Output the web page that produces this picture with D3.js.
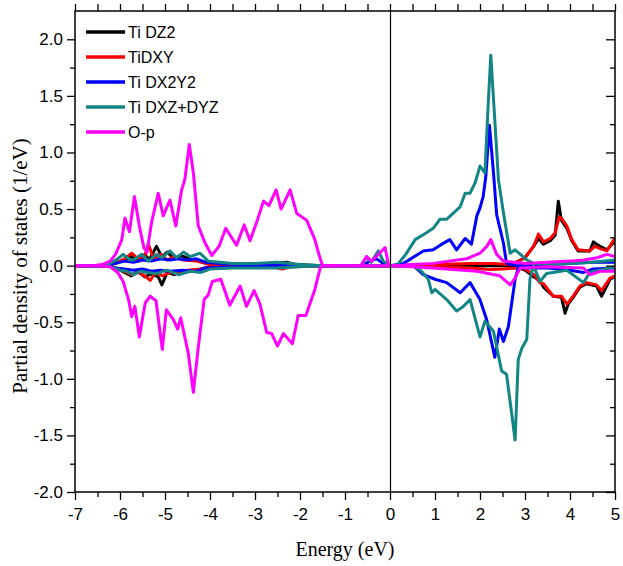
<!DOCTYPE html>
<html><head><meta charset="utf-8">
<script src="https://cdn.jsdelivr.net/npm/d3@7"></script>
<style>body{margin:0;background:#fff}svg{display:block}</style>
</head><body><svg id="c" width="623" height="566"></svg>
<script>
const xTicks = [-7,-6,-5,-4,-3,-2,-1,0,1,2,3,4,5];
const xTickLabels = ["-7","-6","-5","-4","-3","-2","-1","0","1","2","3","4","5"];
const yTicks = [-2,-1.5,-1,-0.5,0,0.5,1,1.5,2];
const yTickLabels = ["-2.0","-1.5","-1.0","-0.5","0.0","0.5","1.0","1.5","2.0"];
const seriesNames = ["Ti DZ2","TiDXY","Ti DX2Y2","Ti DXZ+DYZ","O-p"];
const seriesColors = ["#000000","#ff0000","#0000ff","#148585","#ff00ff"];

const dz2Up = [[-7,0],[-6.3,0],[-6.1,0.02],[-5.9,0.05],[-5.75,0.08],[-5.6,0.04],[-5.45,0.1],[-5.35,0.05],[-5.19,0.17],[-5.07,0.08],[-4.95,0.12],[-4.8,0.06],[-4.65,0.09],[-4.4,0.05],[-4.2,0.04],[-4,0.01],[-3,0.01],[-2.3,0.03],[-2.1,0.01],[-1.5,0],[0,0],[1,0.005],[2,0.01],[2.7,0.01],[3.0,0.07],[3.19,0.17],[3.30,0.24],[3.41,0.19],[3.56,0.22],[3.67,0.27],[3.74,0.57],[3.81,0.40],[3.93,0.33],[4.04,0.22],[4.18,0.13],[4.44,0.13],[4.52,0.21],[4.67,0.17],[4.82,0.14],[4.96,0.2],[5,0.2]];
const dz2Down = [[-7,0],[-6.3,0],[-6.1,-0.02],[-5.9,-0.06],[-5.75,-0.09],[-5.6,-0.05],[-5.45,-0.1],[-5.3,-0.07],[-5.15,-0.1],[-5.07,-0.17],[-4.95,-0.06],[-4.8,-0.08],[-4.6,-0.05],[-4.3,-0.04],[-4,-0.01],[-1.5,0],[2.7,0],[3.0,-0.04],[3.2,-0.1],[3.33,-0.13],[3.41,-0.19],[3.63,-0.27],[3.81,-0.28],[3.89,-0.42],[3.96,-0.34],[4.07,-0.28],[4.22,-0.19],[4.37,-0.16],[4.59,-0.18],[4.7,-0.27],[4.89,-0.12],[5,-0.1]];
const dxyUp = [[-7,0],[-6.3,0],[-6.1,0.02],[-5.9,0.06],[-5.74,0.11],[-5.6,0.06],[-5.45,0.08],[-5.37,0.19],[-5.25,0.06],[-5.1,0.1],[-4.95,0.05],[-4.8,0.08],[-4.6,0.05],[-4.3,0.04],[-4,0.01],[-1.5,0],[0,0],[1.0,0.01],[1.8,0.02],[2.3,0.02],[2.7,0.01],[3.0,0.07],[3.19,0.17],[3.30,0.28],[3.41,0.21],[3.56,0.24],[3.67,0.29],[3.76,0.43],[3.81,0.42],[3.93,0.35],[4.04,0.23],[4.18,0.14],[4.44,0.13],[4.55,0.17],[4.67,0.15],[4.82,0.13],[4.96,0.22],[5,0.24]];
const dxyDown = [[-7,0],[-6.3,0],[-6.1,-0.02],[-5.9,-0.05],[-5.74,-0.08],[-5.6,-0.06],[-5.45,-0.09],[-5.33,-0.13],[-5.2,-0.06],[-5.05,-0.09],[-4.9,-0.06],[-4.7,-0.07],[-4.5,-0.04],[-4.2,-0.03],[-4,-0.01],[-2.6,-0.01],[-2.4,-0.03],[-2.2,-0.01],[-1.5,0],[0.5,0],[1.0,-0.01],[1.8,-0.02],[2.2,-0.035],[2.5,-0.03],[2.8,-0.02],[3.0,-0.03],[3.2,-0.08],[3.33,-0.15],[3.41,-0.16],[3.63,-0.27],[3.81,-0.27],[3.93,-0.34],[4.07,-0.27],[4.22,-0.18],[4.37,-0.15],[4.59,-0.17],[4.7,-0.22],[4.89,-0.11],[5,-0.09]];
const dx2y2Up = [[-7,0],[-6.3,0],[-6.1,0.02],[-5.9,0.04],[-5.7,0.03],[-5.5,0.05],[-5.3,0.04],[-5.1,0.06],[-4.9,0.05],[-4.7,0.06],[-4.5,0.05],[-4.3,0.06],[-4.1,0.03],[-3.8,0.02],[-3,0.01],[-1.5,0],[-0.6,0],[-0.45,0.04],[-0.3,0.06],[-0.15,0.02],[0,0],[0.3,0.02],[0.74,0.13],[0.96,0.14],[1.15,0.19],[1.33,0.23],[1.48,0.14],[1.67,0.24],[1.81,0.19],[1.93,0.44],[2.0,0.51],[2.07,0.61],[2.13,0.79],[2.21,1.24],[2.30,0.82],[2.37,0.45],[2.52,0.2],[2.59,0.02],[2.8,0],[3.5,0.01],[4.0,0.02],[4.5,0.03],[5,0.03]];
const dx2y2Down = [[-7,0],[-6.3,0],[-6.1,-0.02],[-5.9,-0.03],[-5.7,-0.04],[-5.5,-0.03],[-5.3,-0.05],[-5.1,-0.04],[-4.9,-0.05],[-4.6,-0.04],[-4.3,-0.05],[-4.1,-0.02],[-3.5,-0.01],[-1.5,0],[0.52,0],[0.74,-0.08],[1.0,-0.12],[1.26,-0.15],[1.56,-0.24],[1.78,-0.15],[2.0,-0.30],[2.15,-0.48],[2.33,-0.81],[2.43,-0.56],[2.52,-0.67],[2.63,-0.54],[2.78,-0.12],[2.85,-0.02],[3.5,-0.02],[4.0,-0.04],[4.3,-0.06],[4.5,-0.03],[5,-0.02]];
const dxzUp = [[-7,0],[-6.4,0],[-6.22,0.02],[-6.05,0.06],[-5.93,0.10],[-5.78,0.05],[-5.7,0.05],[-5.52,0.10],[-5.37,0.04],[-5.19,0.10],[-5.07,0.07],[-4.89,0.13],[-4.74,0.07],[-4.59,0.12],[-4.44,0.08],[-4.22,0.11],[-4.04,0.04],[-3.78,0.03],[-3.5,0.02],[-3.0,0.02],[-2.5,0.03],[-2.0,0.01],[-1.5,0],[-0.62,0],[-0.52,0.08],[-0.42,0.03],[-0.26,0.13],[-0.15,0.04],[0,0],[0.15,0],[0.35,0.1],[0.56,0.23],[0.81,0.29],[0.96,0.33],[1.11,0.41],[1.26,0.41],[1.37,0.45],[1.56,0.52],[1.67,0.64],[1.78,0.64],[1.89,0.73],[2.0,0.88],[2.11,0.82],[2.18,1.41],[2.24,1.86],[2.31,1.41],[2.41,0.76],[2.52,0.47],[2.67,0.11],[2.78,0.14],[3.04,0.05],[3.19,0.02],[3.6,0.01],[4.0,0.02],[4.5,0.03],[5,0.05]];
const dxzDown = [[-7,0],[-6.4,0],[-6.22,-0.01],[-6.0,-0.04],[-5.85,-0.05],[-5.7,-0.08],[-5.55,-0.05],[-5.4,-0.06],[-5.19,-0.07],[-4.96,-0.04],[-4.70,-0.08],[-4.44,-0.05],[-4.2,-0.06],[-4.0,-0.03],[-3.5,-0.02],[-3.0,-0.02],[-2.5,-0.02],[-2.0,-0.01],[-1.5,0],[0.52,0],[0.7,-0.05],[0.85,-0.12],[0.93,-0.24],[1.0,-0.21],[1.26,-0.30],[1.48,-0.40],[1.63,-0.36],[1.78,-0.30],[2.0,-0.63],[2.11,-0.49],[2.3,-0.58],[2.48,-0.93],[2.59,-0.96],[2.78,-1.54],[2.85,-0.83],[2.93,-0.73],[3.04,-0.65],[3.11,-0.12],[3.19,0],[3.33,-0.14],[3.48,-0.07],[3.93,-0.04],[4.3,-0.15],[4.44,-0.06],[5,-0.01]];
const opUp = [[-7,0],[-6.6,0],[-6.4,0.01],[-6.22,0.04],[-6.1,0.1],[-5.96,0.23],[-5.89,0.42],[-5.79,0.30],[-5.68,0.61],[-5.57,0.35],[-5.47,0.16],[-5.4,0.12],[-5.3,0.38],[-5.15,0.64],[-5.04,0.44],[-4.89,0.58],[-4.76,0.35],[-4.63,0.67],[-4.56,0.76],[-4.46,1.07],[-4.37,0.82],[-4.26,0.35],[-4.11,0.20],[-3.96,0.09],[-3.8,0.17],[-3.65,0.33],[-3.41,0.18],[-3.24,0.36],[-3.11,0.22],[-2.95,0.4],[-2.81,0.57],[-2.69,0.53],[-2.53,0.67],[-2.42,0.50],[-2.22,0.67],[-2.07,0.46],[-1.85,0.40],[-1.67,0.23],[-1.58,0.1],[-1.5,0],[-0.65,0],[-0.52,0.08],[-0.41,0.04],[-0.26,0.10],[-0.11,0.16],[-0.03,0],[0.15,0],[0.5,0.01],[0.96,0.02],[1.7,0.06],[2.0,0.11],[2.15,0.17],[2.24,0.23],[2.37,0.10],[2.52,0.04],[3.0,0.02],[3.5,0.03],[4.0,0.04],[4.3,0.05],[4.6,0.07],[4.82,0.10],[5,0.08]];
const opDown = [[-7,0],[-6.5,0],[-6.22,-0.01],[-6.05,-0.06],[-5.93,-0.14],[-5.81,-0.30],[-5.74,-0.45],[-5.67,-0.36],[-5.57,-0.63],[-5.44,-0.33],[-5.33,-0.27],[-5.2,-0.31],[-5.06,-0.74],[-4.97,-0.39],[-4.81,-0.48],[-4.72,-0.56],[-4.65,-0.46],[-4.48,-0.78],[-4.37,-1.12],[-4.26,-0.72],[-4.13,-0.30],[-4.04,-0.26],[-3.95,-0.14],[-3.76,-0.12],[-3.56,-0.35],[-3.33,-0.18],[-3.19,-0.36],[-3.02,-0.22],[-2.89,-0.34],[-2.74,-0.59],[-2.63,-0.60],[-2.50,-0.71],[-2.37,-0.60],[-2.17,-0.69],[-2.04,-0.44],[-1.87,-0.44],[-1.67,-0.21],[-1.55,-0.02],[-1.5,0],[0.1,0],[0.96,-0.02],[1.93,-0.05],[2.44,-0.09],[2.67,-0.17],[2.78,-0.11],[2.89,-0.02],[3.5,-0.01],[4.3,-0.02],[4.44,-0.08],[4.67,-0.05],[5,-0.05]];

const curves = [
  {data:dz2Up,s:0},{data:dz2Down,s:0},
  {data:dxyUp,s:1},{data:dxyDown,s:1},
  {data:dx2y2Up,s:2},{data:dx2y2Down,s:2},
  {data:dxzUp,s:3},{data:dxzDown,s:3},
  {data:opUp,s:4},{data:opDown,s:4}
];

const L=75, R=615, T=11, B=492;
const x = d3.scaleLinear().domain([-7,5]).range([L,R]);
const y = d3.scaleLinear().domain([-2,2.25]).range([B,T]);
const svg = d3.select("#c");

svg.append("defs").append("clipPath").attr("id","clip").append("rect")
  .attr("x",L).attr("y",T).attr("width",R-L).attr("height",B-T);

const line = d3.line().x(d=>x(d[0])).y(d=>y(d[1]));
const g = svg.append("g").attr("clip-path","url(#clip)");
curves.forEach(c=>{
  g.append("path").attr("d",line(c.data)).attr("fill","none")
   .attr("stroke",seriesColors[c.s]).attr("stroke-width",3).attr("stroke-linejoin","round");
});

// zero energy line
svg.append("line").attr("x1",x(0)+0.5).attr("x2",x(0)+0.5).attr("y1",T).attr("y2",B)
  .attr("stroke","#000").attr("stroke-width",1.2);

// axes
const xMinor = d3.range(-6.5,5,1);
const yMinor = d3.range(-1.75,2.25,0.5);
const fmtX = v => xTickLabels[xTicks.indexOf(v)];
const fmtY = v => yTickLabels[yTicks.indexOf(v)];
const font = "'Liberation Sans', Arial, sans-serif";

function axisG(axis, tr){ const a = svg.append("g").attr("transform",tr).call(axis); a.select(".domain").remove(); a.selectAll("line").attr("stroke-width",1.3); return a; }

const xb = axisG(d3.axisBottom(x).tickValues(xTicks).tickFormat(fmtX).tickSize(8).tickPadding(8), `translate(0,${B})`);
xb.selectAll("text").attr("font-size",17).attr("font-family",font).attr("fill","#000");
axisG(d3.axisBottom(x).tickValues(xMinor).tickFormat("").tickSize(5), `translate(0,${B})`);
axisG(d3.axisBottom(x).tickValues(xTicks.concat(xMinor)).tickFormat("").tickSize(-7), `translate(0,${T})`);

const yl = axisG(d3.axisLeft(y).tickValues(yTicks).tickFormat(fmtY).tickSize(8).tickPadding(4), `translate(${L},0)`);
yl.selectAll("text").attr("font-size",17).attr("font-family",font).attr("fill","#000");
axisG(d3.axisLeft(y).tickValues(yMinor).tickFormat("").tickSize(5), `translate(${L},0)`);
axisG(d3.axisRight(y).tickValues(yTicks).tickFormat("").tickSize(-9), `translate(${R},0)`);
axisG(d3.axisRight(y).tickValues(yMinor).tickFormat("").tickSize(-5), `translate(${R},0)`);

svg.append("rect").attr("x",L).attr("y",T).attr("width",R-L).attr("height",B-T)
  .attr("fill","none").attr("stroke","#000").attr("stroke-width",1.5);

// titles
svg.append("text").attr("x",(L+R)/2).attr("y",556).attr("text-anchor","middle")
  .attr("font-family","'Liberation Serif','Times New Roman',serif").attr("font-size",20).text("Energy (eV)");
svg.append("text").attr("transform",`translate(27,266) rotate(-90)`).attr("text-anchor","middle")
  .attr("font-family","'Liberation Serif','Times New Roman',serif").attr("font-size",21).text("Partial density of states (1/eV)");

// legend
const lg = svg.append("g");
seriesNames.forEach((n,i)=>{
  const yy = 32 + i*25;
  lg.append("line").attr("x1",86).attr("x2",125).attr("y1",yy).attr("y2",yy)
    .attr("stroke",seriesColors[i]).attr("stroke-width",3.5);
  lg.append("text").attr("x",128).attr("y",yy+6).attr("font-family",font).attr("font-size",16).text(n);
});
</script></body></html>
